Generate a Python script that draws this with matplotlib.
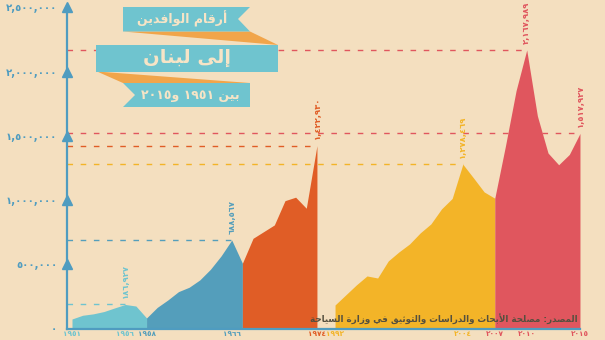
import re
import matplotlib
matplotlib.use('Agg')
import matplotlib.pyplot as plt
from matplotlib.patches import Polygon

# ---- data (visitor arrivals to Lebanon) ----
years_a = list(range(1951, 1975))
visitors_a = [74000, 103000, 114000, 132000, 160000, 186927, 175000, 82000,
              164000, 222000, 287000, 321000, 378000, 461000, 565000, 688567,
              508000, 702000, 754000, 806000, 995000, 1022000, 936000, 1422930]
years_b = list(range(1992, 2016))
visitors_b = [183000, 261000, 339000, 409000, 393000, 526000, 596000, 658000,
              744000, 814000, 931000, 1012000, 1278469, 1172000, 1063000, 1014000,
              1420000, 1851081, 2167989, 1655051, 1365845, 1274362, 1354647, 1517927]

years = years_a + years_b
visitors = visitors_a + visitors_b

# eras: (first year, last year)
eras = [(1951, 1958), (1958, 1967), (1967, 1974), (1992, 2007), (2007, 2015)]
era_colors = ['#6FC4CF', '#549EBB', '#E05D26', '#F3B428', '#E0565E']

highlight_years = [1956, 1966, 1974, 2004, 2010, 2015]
highlight_colors = ['#6FC4CF', '#549EBB', '#E05D26', '#F3B428', '#E0565E', '#E0565E']

tick_years = [1951, 1956, 1958, 1966, 1974, 1992, 2004, 2007, 2010, 2015]
tick_year_colors = ['#6FC4CF', '#6FC4CF', '#549EBB', '#549EBB', '#E05D26',
                    '#F3B428', '#F3B428', '#E0565E', '#E0565E', '#E0565E']

y_ticks = [0, 500000, 1000000, 1500000, 2000000, 2500000]

title_1 = 'أرقام الوافدين'
title_2 = 'إلى لبنان'
title_3 = 'بين ١٩٥١ و٢٠١٥'
source = 'المصدر: مصلحة الأبحاث والدراسات والتوثيق في وزارة السياحة'

BG = '#F4DFBF'
AXIS = '#4F9CC0'
CREAM = '#F6E4C6'
BANNER = '#6FC4CF'
RIBBON = '#F1A54A'


def xpos(yr):
    # broken time axis: 1975-1991 is squeezed out
    return yr - 1951 if yr <= 1974 else yr - 1992 + 24.7


def arabic_digits(v):
    return str(v).translate(str.maketrans('0123456789', '٠١٢٣٤٥٦٧٨٩'))


def fmt(v):
    return arabic_digits(f'{v:,}')


# ---- minimal arabic shaping (matplotlib has no complex text layout) ----
DUAL, RIGHT = True, False
ARABIC = {
    'ا': (0xFE8D, RIGHT), 'أ': (0xFE83, RIGHT), 'إ': (0xFE87, RIGHT), 'آ': (0xFE81, RIGHT),
    'ؤ': (0xFE85, RIGHT), 'ئ': (0xFE89, DUAL), 'ب': (0xFE8F, DUAL), 'ة': (0xFE93, RIGHT),
    'ت': (0xFE95, DUAL), 'ث': (0xFE99, DUAL), 'ج': (0xFE9D, DUAL), 'ح': (0xFEA1, DUAL),
    'خ': (0xFEA5, DUAL), 'د': (0xFEA9, RIGHT), 'ذ': (0xFEAB, RIGHT), 'ر': (0xFEAD, RIGHT),
    'ز': (0xFEAF, RIGHT), 'س': (0xFEB1, DUAL), 'ش': (0xFEB5, DUAL), 'ص': (0xFEB9, DUAL),
    'ض': (0xFEBD, DUAL), 'ط': (0xFEC1, DUAL), 'ظ': (0xFEC5, DUAL), 'ع': (0xFEC9, DUAL),
    'غ': (0xFECD, DUAL), 'ف': (0xFED1, DUAL), 'ق': (0xFED5, DUAL), 'ك': (0xFED9, DUAL),
    'ل': (0xFEDD, DUAL), 'م': (0xFEE1, DUAL), 'ن': (0xFEE5, DUAL), 'ه': (0xFEE9, DUAL),
    'و': (0xFEED, RIGHT), 'ى': (0xFEEF, RIGHT), 'ي': (0xFEF1, DUAL),
}
LAM_ALEF = {'آ': 0xFEF5, 'أ': 0xFEF7, 'إ': 0xFEF9, 'ا': 0xFEFB}


def shape(s):
    out = []
    i = 0
    while i < len(s):
        ch = s[i]
        if ch not in ARABIC:
            out.append(ch)
            i += 1
            continue
        prev = s[i - 1] if i > 0 else ''
        jp = prev in ARABIC and ARABIC[prev][1]
        if ch == 'ل' and i + 1 < len(s) and s[i + 1] in LAM_ALEF:
            out.append(chr(LAM_ALEF[s[i + 1]] + (1 if jp else 0)))
            i += 2
            continue
        nxt = s[i + 1] if i + 1 < len(s) else ''
        code, dual = ARABIC[ch]
        jn = dual and nxt in ARABIC
        f = 3 if (jp and jn) else 1 if jp else 2 if jn else 0
        out.append(chr(code + f))
        i += 1
    return ''.join(out)


def rtl(s):
    v = shape(s)[::-1]
    return re.sub('[0-9\u0660-\u0669][0-9\u0660-\u0669,]*', lambda m: m.group(0)[::-1], v)


plt.rcParams['font.family'] = ['DejaVu Sans']

fig = plt.figure(figsize=(6.05, 3.4), dpi=100)
fig.patch.set_facecolor(BG)

W, H = 605, 340
x_left, x_right = -0.47, 50.05
ax = fig.add_axes([67 / W, (H - 328.5) / H, (W - 67) / W, (328.5 - 7.3) / H])
ax.set_facecolor('none')
ax.set_xlim(x_left, x_right)
ax.set_ylim(0, 2500000)

# areas
for (s, e), c in zip(eras, era_colors):
    xs = [xpos(y) for y in years if s <= y <= e]
    vs = [v for y, v in zip(years, visitors) if s <= y <= e]
    ax.fill_between(xs, vs, 0, color=c, lw=0, zorder=3)

# guide lines and peak labels
for yr, c in zip(highlight_years, highlight_colors):
    v = visitors[years.index(yr)]
    ax.hlines(v, x_left, xpos(yr), colors=c, linestyles=(0, (4, 5.5)), lw=1, zorder=1)
    ax.annotate(fmt(v), (xpos(yr), v), xytext=(0, 4.5), textcoords='offset points',
                rotation=90, ha='center', va='bottom', color=c, fontsize=6,
                fontweight='bold', annotation_clip=False)

# axes styling
for side in ['top', 'right']:
    ax.spines[side].set_visible(False)
ax.spines['left'].set_color(AXIS)
ax.spines['left'].set_linewidth(1.6)
ax.spines['bottom'].set_color(AXIS)
ax.spines['bottom'].set_linewidth(1.6)
ax.spines['bottom'].set_bounds(x_left, xpos(2015))
ax.spines['left'].set_zorder(5)
ax.spines['bottom'].set_zorder(5)

ax.set_yticks(y_ticks, [fmt(t) for t in y_ticks])
ax.tick_params(axis='y', length=0, pad=7, labelcolor=AXIS, labelsize=7.3)
for lab in ax.get_yticklabels():
    lab.set_fontweight('bold')
ax.plot([x_left] * len(y_ticks[1:]), y_ticks[1:], ls='none', marker='^', ms=7,
        color=AXIS, clip_on=False, zorder=6)

ax.set_xticks([xpos(y) for y in tick_years], [arabic_digits(y) for y in tick_years])
ax.tick_params(axis='x', length=0, pad=1.5, labelsize=5.3)
for lab, c in zip(ax.get_xticklabels(), tick_year_colors):
    lab.set_color(c)
    lab.set_fontweight('bold')

# ---- title ribbons (decoration, pixel space) ----
deco = fig.add_axes([0, 0, 1, 1])
deco.set_xlim(0, W)
deco.set_ylim(H, 0)
deco.set_axis_off()

deco.add_patch(Polygon([(123, 31.5), (250, 31.5), (278, 45)], closed=True, color=RIBBON, lw=0))
deco.add_patch(Polygon([(97, 71.5), (123, 83), (250, 83)], closed=True, color=RIBBON, lw=0))
deco.add_patch(Polygon([(123, 7), (250, 7), (238, 19), (250, 31.5), (123, 31.5)],
                       closed=True, color=BANNER, lw=0))
deco.add_patch(Polygon([(96, 45), (278, 45), (278, 71.5), (96, 71.5)], closed=True,
                       color=BANNER, lw=0))
deco.add_patch(Polygon([(123, 83), (250, 83), (250, 107), (123, 107), (135, 95)],
                       closed=True, color=BANNER, lw=0))

deco.text(182, 19, rtl(title_1), ha='center', va='center', fontsize=9,
          fontweight='bold', color=CREAM)
deco.text(187, 57.5, rtl(title_2), ha='center', va='center', fontsize=14,
          fontweight='bold', color=CREAM)
deco.text(190, 95, rtl(title_3), ha='center', va='center', fontsize=9,
          fontweight='bold', color=CREAM)

deco.text(578, 319, rtl(source), ha='right', va='center', fontsize=6.3,
          fontweight='bold', color='#55503F')

fig.savefig('out.png', dpi=100, facecolor=BG)
